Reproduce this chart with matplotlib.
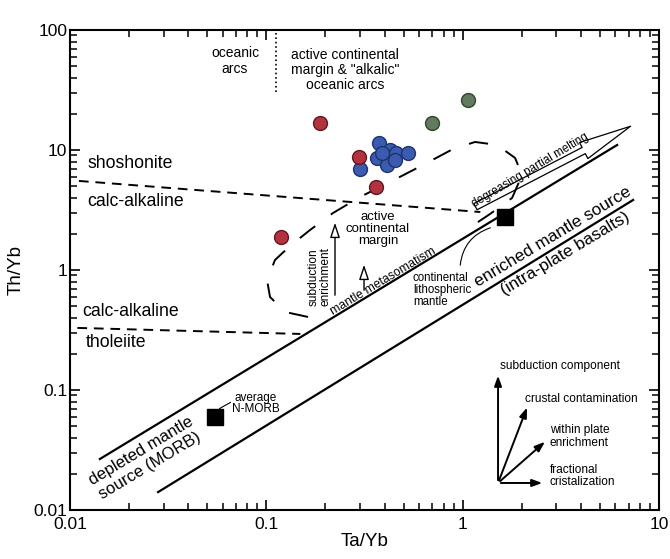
import matplotlib.pyplot as plt
from matplotlib.patches import FancyArrowPatch

plt.rcParams['font.family'] = ['Liberation Sans', 'DejaVu Sans']

# Muestras (Ta/Yb, Th/Yb)
rojo_x = [0.187, 0.362, 0.119, 0.296]
rojo_y = [16.8, 4.92, 1.9, 8.74]
azul_x = [0.301, 0.375, 0.366, 0.427, 0.458, 0.527, 0.412, 0.453, 0.388]
azul_y = [6.95, 11.4, 8.58, 10.0, 9.44, 9.44, 7.50, 8.25, 9.44]
verde_x = [0.698, 1.065]
verde_y = [16.8, 26.1]

# Composiciones de referencia
nmorb_x, nmorb_y = [0.0548], [0.0596]
enriq_x, enriq_y = [1.64], [2.77]

# Limites del arreglo MORB-OIB
sup_x, sup_y = [0.0142, 6.12], [0.0266, 11.0]
inf_x, inf_y = [0.0281, 7.38], [0.0141, 3.83]

# Limites de series magmaticas
sho_x, sho_y = [0.0111, 1.23], [5.52, 3.04]
tho_x, tho_y = [0.0109, 0.149], [0.329, 0.293]
arco_x, arco_y = [0.112, 0.112], [30.4, 100]

# Campo de margen continental activo (curva discontinua)
campo_x = [0.1631, 0.1246, 0.1044, 0.1008, 0.1107, 0.1320, 0.1670, 0.2187, 0.3001,
           0.4268, 0.6140, 0.8935, 1.157, 1.497, 1.849, 2.007, 1.785, 1.379, 1.005]
campo_y = [0.4058, 0.4467, 0.5957, 0.8254, 1.2115, 1.585, 2.154, 2.985, 4.058,
           5.412, 7.356, 10.19, 11.66, 11.01, 8.577, 6.19, 3.981, 2.929, 2.073]

ticks = [0.01, 0.1, 1, 10, 100]
tick_labels = ['0.01', '0.1', '1', '10', '100']

fig = plt.figure(figsize=(6.7, 5.59), dpi=100)
ax = fig.add_axes([0.1045, 0.0877, 0.8791, 0.8587])
ax.set_xscale('log')
ax.set_yscale('log')
ax.set_xlim(0.01, 10)
ax.set_ylim(0.01, 100)

ax.plot(sup_x, sup_y, color='black', lw=1.6)
ax.plot(inf_x, inf_y, color='black', lw=1.6)
ax.plot(sho_x, sho_y, color='black', lw=1.4, dashes=(5, 3.5))
ax.plot(tho_x, tho_y, color='black', lw=1.4, dashes=(5, 3.5))
ax.plot(arco_x, arco_y, color='black', lw=1.2, ls=':')
ax.plot(campo_x, campo_y, color='black', lw=1.4, dashes=(10, 10))

ax.plot(nmorb_x, nmorb_y, 's', color='black', ms=11)
ax.plot(enriq_x, enriq_y, 's', color='black', ms=11)

ax.plot(verde_x, verde_y, 'o', ms=10, mfc='#627a5e', mec='#33442f', mew=1)
ax.plot(azul_x, azul_y, 'o', ms=10, mfc='#3a5bb0', mec='#1f3370', mew=1)
ax.plot(rojo_x, rojo_y, 'o', ms=10, mfc='#b3323f', mec='#5e1820', mew=1)

ax.set_xticks(ticks[:4], tick_labels[:4])
ax.set_yticks(ticks, tick_labels)
ax.tick_params(which='both', direction='in', top=True, right=True, labelsize=12.5)
ax.tick_params(which='major', length=7, width=1.2)
ax.tick_params(which='minor', length=5, width=1.1)
ax.tick_params(axis='y', pad=2)
ax.tick_params(axis='x', pad=5)
for s in ax.spines.values():
    s.set_linewidth(1.5)
ax.set_xlabel('Ta/Yb', fontsize=13.5, labelpad=1)
ax.set_ylabel('Th/Yb', fontsize=13.5, labelpad=6)

t = ax.transAxes
ax.text(0.2801, 0.9354, 'oceanic\narcs', transform=t, ha='center', va='center', fontsize=10, linespacing=1.1)
ax.text(0.4669, 0.9167, 'active continental\nmargin & "alkalic"\noceanic arcs', transform=t,
        ha='center', va='center', fontsize=10, linespacing=1.1)
ax.text(0.0289, 0.7208, 'shoshonite', transform=t, va='center', fontsize=12.7)
ax.text(0.0289, 0.6417, 'calc-alkaline', transform=t, va='center', fontsize=12.7)
ax.text(0.0204, 0.4125, 'calc-alkaline', transform=t, va='center', fontsize=12.7)
ax.text(0.0272, 0.3479, 'tholeiite', transform=t, va='center', fontsize=12.7)
ax.text(0.5229, 0.5854, 'active\ncontinental\nmargin', transform=t, ha='center', va='center',
        fontsize=9.5, linespacing=1.0)
ax.text(0.4244, 0.4854, 'subduction\nenrichment', transform=t, ha='center', va='center',
        fontsize=8.6, rotation=90, linespacing=1.0)
ax.text(0.5314, 0.4771, 'mantle metasomatism', transform=t, ha='center', va='center',
        fontsize=8.8, rotation=31, rotation_mode='anchor')
ax.text(0.5823, 0.4583, 'continental\nlithospheric\nmantle', transform=t, ha='left', va='center',
        fontsize=8.3, linespacing=1.0)
ax.text(0.781, 0.7083, 'degreasing partial melting', transform=t, ha='center', va='center',
        fontsize=8.4, rotation=31, rotation_mode='anchor')
ax.text(0.82, 0.569, 'enriched mantle source', transform=t, ha='center', va='center',
        fontsize=12.4, rotation=31, rotation_mode='anchor')
ax.text(0.8404, 0.5333, '(intra-plate basalts)', transform=t, ha='center', va='center',
        fontsize=12.3, rotation=31, rotation_mode='anchor')
ax.text(0.1205, 0.1229, 'depleted mantle', transform=t, ha='center', va='center',
        fontsize=12, rotation=31, rotation_mode='anchor')
ax.text(0.1358, 0.0917, 'source (MORB)', transform=t, ha='center', va='center',
        fontsize=12, rotation=31, rotation_mode='anchor')
ax.text(0.3158, 0.2219, 'average\nN-MORB', transform=t, ha='center', va='center',
        fontsize=8.5, linespacing=0.95)

# Flechas del diagrama
flecha_abierta = dict(arrowstyle='-|>,head_length=0.9,head_width=0.3', fc='white', ec='black', lw=1)
ax.annotate('', xy=(0.4499, 0.6042), xytext=(0.4499, 0.4417), xycoords=t, arrowprops=flecha_abierta)
ax.annotate('', xy=(0.4992, 0.5167), xytext=(0.4992, 0.4521), xycoords=t, arrowprops=flecha_abierta)
ax.add_patch(FancyArrowPatch((0.6842, 0.6292), (0.9559, 0.8021), transform=t,
                             arrowstyle='simple,head_length=3.8,head_width=1.3,tail_width=0.5',
                             mutation_scale=10, fc='white', ec='black', lw=0.9))
ax.annotate('', xy=(0.7182, 0.5896), xytext=(0.6621, 0.5042), xycoords=t,
            arrowprops=dict(arrowstyle='-', lw=0.8, connectionstyle='arc3,rad=-0.35'))
ax.annotate('', xy=(0.2496, 0.2083), xytext=(0.2767, 0.2271), xycoords=t,
            arrowprops=dict(arrowstyle='-', lw=0.8))

# Vectores de procesos
orig = (0.7267, 0.05625)
flecha = dict(arrowstyle='-|>,head_length=0.6,head_width=0.22', fc='black', ec='black', lw=1.4)
for destino in [(0.7267, 0.2854), (0.7776, 0.2188), (0.8098, 0.1458), (0.8065, 0.05625)]:
    ax.annotate('', xy=destino, xytext=orig, xycoords=t, arrowprops=flecha)
ax.text(0.7301, 0.300, 'subduction component', transform=t, va='center', fontsize=8.6)
ax.text(0.7725, 0.2313, 'crustal contamination', transform=t, va='center', fontsize=8.6)
ax.text(0.8149, 0.1531, 'within plate\nenrichment', transform=t, va='center', fontsize=8.6, linespacing=1.1)
ax.text(0.8149, 0.0708, 'fractional\ncristalization', transform=t, va='center', fontsize=8.6, linespacing=1.1)

fig.savefig('out.png', dpi=100)
